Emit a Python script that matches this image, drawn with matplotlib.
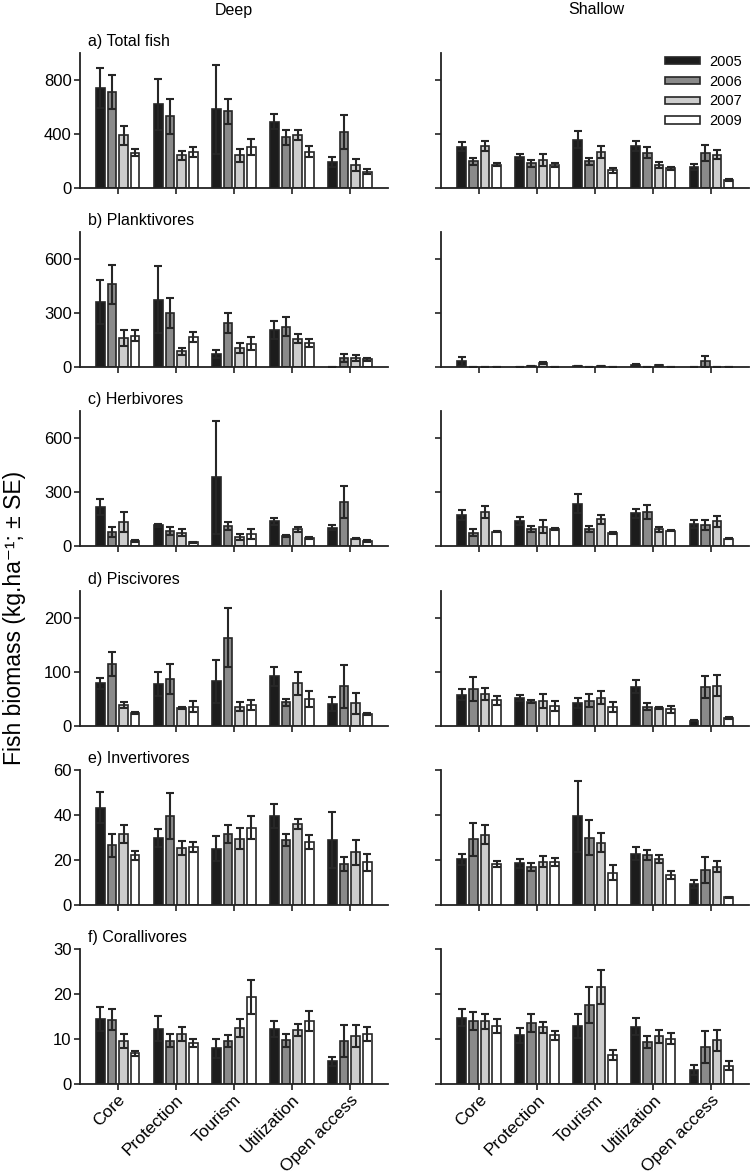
import matplotlib.pyplot as plt
import numpy as np

plt.rcParams['font.family'] = ['Liberation Sans', 'DejaVu Sans']

zones = ["Core", "Protection", "Tourism", "Utilization", "Open access"]
years = ["2005", "2006", "2007", "2009"]

# rows = years (2005, 2006, 2007, 2009), columns = zones
total_deep = [[740, 620, 582, 492, 190], [712, 532, 567, 377, 415],
              [390, 242, 242, 395, 172], [262, 267, 305, 270, 122]]
total_deep_se = [[150, 187, 328, 53, 37], [125, 130, 95, 55, 127],
                 [72, 35, 48, 37, 43], [28, 38, 57, 42, 20]]
total_shallow = [[307, 232, 357, 312, 155], [197, 182, 197, 262, 257],
                 [310, 207, 267, 172, 247], [172, 170, 130, 145, 62]]
total_shallow_se = [[33, 18, 63, 38, 22], [23, 23, 23, 43, 58],
                    [37, 43, 45, 20, 35], [10, 15, 17, 12, 8]]

plank_deep = [[363, 376, 74, 206, 3], [460, 302, 244, 226, 52],
              [163, 89, 107, 159, 52], [174, 169, 130, 137, 43]]
plank_deep_se = [[122, 187, 20, 51, 0], [108, 85, 56, 54, 24],
                 [44, 20, 28, 24, 18], [30, 27, 37, 22, 9]]
plank_shallow = [[32, 2, 6, 14, 1], [2, 7, 2, 2, 32],
                 [4, 22, 6, 12, 3], [3, 4, 1, 2, 0]]
plank_shallow_se = [[24, 0, 0, 3, 0], [0, 2, 0, 0, 31],
                    [0, 5, 0, 3, 0], [0, 0, 0, 0, 0]]

herb_deep = [[221, 118, 384, 139, 105], [82, 86, 111, 58, 248],
             [137, 77, 52, 94, 43], [32, 22, 69, 45, 32]]
herb_deep_se = [[45, 8, 315, 19, 15], [27, 23, 22, 5, 90],
                [56, 19, 17, 15, 4], [5, 5, 27, 5, 5]]
herb_shallow = [[172, 140, 237, 183, 123], [77, 99, 99, 191, 118],
                [191, 110, 150, 94, 140], [82, 97, 73, 88, 43]]
herb_shallow_se = [[28, 21, 53, 25, 21], [17, 17, 17, 37, 26],
                   [32, 34, 26, 14, 30], [4, 8, 6, 3, 4]]

pisc_deep = [[78, 77, 82, 91, 40], [114, 86, 163, 43, 73],
             [38, 32, 35, 78, 41], [24, 35, 38, 50, 21]]
pisc_deep_se = [[10, 22, 40, 17, 13], [23, 28, 54, 6, 40],
                [6, 2, 8, 22, 19], [2, 10, 10, 15, 2]]
pisc_shallow = [[57, 51, 42, 72, 9], [68, 44, 46, 35, 72],
                [58, 45, 52, 33, 74], [47, 36, 34, 30, 14]]
pisc_shallow_se = [[10, 6, 9, 12, 1], [22, 3, 12, 7, 20],
                   [11, 13, 12, 2, 19], [8, 9, 9, 7, 2]]

inv_deep = [[43.2, 29.8, 24.9, 39.4, 28.8], [26.4, 39.5, 31.5, 28.8, 18.0],
            [31.5, 25.4, 29.3, 35.9, 23.3], [22.0, 25.7, 34.3, 27.9, 18.9]]
inv_deep_se = [[6.8, 3.9, 5.5, 5.4, 12.5], [5.2, 10.4, 4.1, 2.8, 3.2],
               [4.0, 3.1, 4.7, 2.4, 5.4], [2.0, 2.1, 5.2, 3.0, 3.7]]
inv_shallow = [[20.2, 18.4, 39.3, 22.7, 9.3], [29.1, 16.7, 29.9, 22.2, 15.4],
               [31.2, 19.1, 27.5, 20.3, 17.0], [18.2, 19.0, 14.3, 13.4, 3.3]]
inv_shallow_se = [[2.3, 1.9, 15.9, 3.0, 1.7], [7.2, 1.7, 7.7, 2.3, 5.9],
                  [4.2, 2.4, 4.2, 1.9, 2.4], [1.4, 1.8, 3.3, 1.8, 0.3]]

coral_deep = [[14.4, 12.3, 7.9, 12.2, 5.0], [14.3, 9.6, 9.6, 9.7, 9.6],
              [9.6, 11.1, 12.5, 12.0, 10.7], [6.8, 9.1, 19.4, 14.0, 11.1]]
coral_deep_se = [[2.7, 2.7, 2.1, 1.8, 1.1], [2.3, 1.4, 1.3, 1.4, 3.6],
                 [1.5, 1.6, 2.0, 1.4, 2.5], [0.6, 0.9, 3.8, 2.2, 1.5]]
coral_shallow = [[14.7, 10.8, 12.9, 12.7, 3.1], [14.0, 13.6, 17.5, 9.3, 8.2],
                 [13.9, 12.6, 21.6, 10.6, 9.7], [12.9, 10.8, 6.5, 10.1, 4.0]]
coral_shallow_se = [[1.9, 1.7, 2.7, 1.9, 1.1], [1.9, 2.0, 4.0, 1.3, 3.5],
                    [1.7, 1.2, 3.8, 1.4, 2.3], [1.5, 1.0, 1.1, 1.2, 1.0]]

panel_titles = ["a) Total fish", "b) Planktivores", "c) Herbivores",
                "d) Piscivores", "e) Invertivores", "f) Corallivores"]
panels = [
    (total_deep, total_deep_se, total_shallow, total_shallow_se),
    (plank_deep, plank_deep_se, plank_shallow, plank_shallow_se),
    (herb_deep, herb_deep_se, herb_shallow, herb_shallow_se),
    (pisc_deep, pisc_deep_se, pisc_shallow, pisc_shallow_se),
    (inv_deep, inv_deep_se, inv_shallow, inv_shallow_se),
    (coral_deep, coral_deep_se, coral_shallow, coral_shallow_se),
]
y_max = [1000, 750, 750, 250, 60, 30]
y_ticks = [[0, 400, 800], [0, 300, 600], [0, 300, 600],
           [0, 100, 200], [0, 20, 40, 60], [0, 10, 20, 30]]

bar_colors = ["#1c1c1c", "#8a8a8a", "#cdcdcd", "#ffffff"]
edge = "#262626"
offsets = [-0.3, -0.1, 0.1, 0.3]
width = 0.15

fig, axes = plt.subplots(6, 2, figsize=(7.5, 11.74), dpi=100)
plt.subplots_adjust(left=80 / 750, right=749 / 750, top=1 - 53 / 1174,
                    bottom=1 - 1084 / 1174, hspace=0.327, wspace=0.175)

x = np.arange(len(zones))
for r, (dm, dse, sm, sse) in enumerate(panels):
    for c, (means, errs) in enumerate([(dm, dse), (sm, sse)]):
        ax = axes[r, c]
        handles = []
        for i in range(len(years)):
            b = ax.bar(x + offsets[i], means[i], width, color=bar_colors[i],
                       edgecolor=edge, linewidth=1.2, yerr=errs[i],
                       error_kw=dict(ecolor=edge, elinewidth=1.5, capsize=2.6,
                                     capthick=1.5),
                       label=years[i])
            handles.append(b)
        ax.set_xlim(-0.65, 4.65)
        ax.set_ylim(0, y_max[r])
        ax.set_yticks(y_ticks[r])
        ax.set_xticks(x)
        ax.spines["top"].set_visible(False)
        ax.spines["right"].set_visible(False)
        for s in ["left", "bottom"]:
            ax.spines[s].set_linewidth(1.3)
            ax.spines[s].set_color("#222222")
        ax.tick_params(direction="out", length=4, width=1.2, labelsize=12,
                       color="#222222", pad=2)
        if c == 1:
            ax.tick_params(labelleft=False)
        else:
            ax.text(0.026, 1.085, panel_titles[r], transform=ax.transAxes,
                    fontsize=11.5, va="center", ha="left")
        if r == 5:
            ax.set_xticklabels(zones, rotation=45, ha="right",
                               rotation_mode="anchor", fontsize=12.5)
        else:
            ax.tick_params(labelbottom=False)
        if r == 0 and c == 1:
            ax.legend(handles=handles, loc="upper right", frameon=False,
                      bbox_to_anchor=(0.995, 1.03), borderaxespad=0,
                      handlelength=2.4, handleheight=0.4, labelspacing=0.4,
                      handletextpad=0.6, fontsize=10.5)

fig.text(234 / 750, 1 - 10 / 1174, "Deep", ha="center", va="center", fontsize=11.5)
fig.text(596 / 750, 1 - 10 / 1174, "Shallow", ha="center", va="center", fontsize=11.5)
fig.text(15 / 750, 1 - 618 / 1174, "Fish biomass (kg.ha⁻¹; ± SE)",
         rotation=90, ha="center", va="center", fontsize=16.5)

plt.savefig("out.png", dpi=100)
